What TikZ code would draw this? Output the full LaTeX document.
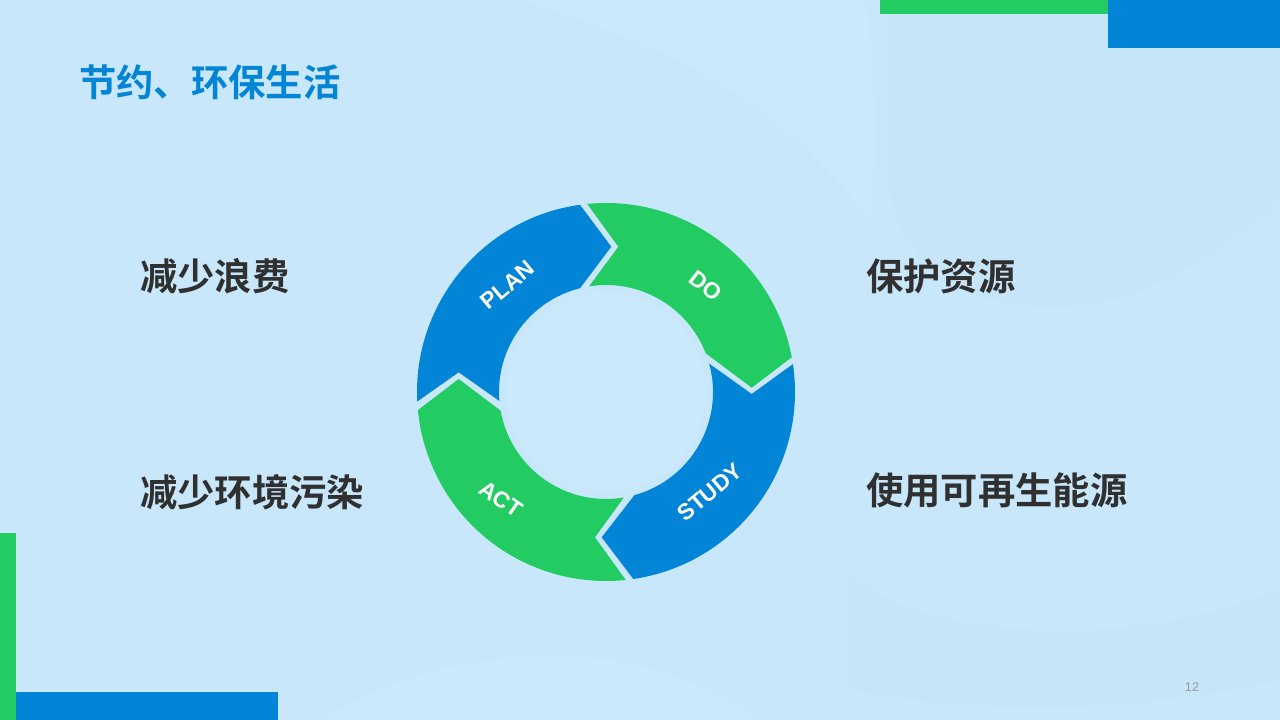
\documentclass[tikz,border=0pt]{standalone}
\usetikzlibrary{calc}
\usepackage{fontspec}
\setmainfont{Liberation Sans}
\newfontfamily\cjkb[BoldFont={Noto Sans CJK SC Bold}]{Noto Sans CJK SC}
\definecolor{bgc}{HTML}{C8E7FA}
\definecolor{bgdark}{HTML}{C6E5F8}
\definecolor{bglight}{HTML}{CAE9FB}
\definecolor{bluec}{HTML}{0285D6}
\definecolor{greenc}{HTML}{22CC62}
\definecolor{inkc}{HTML}{303030}
\tikzset{
  x=0.75pt,y=0.75pt,
  headline/.style={font=\cjkb\bfseries\fontsize{28}{30}\selectfont,text=bluec,inner sep=0pt,anchor=west},
  point/.style={font=\cjkb\bfseries\fontsize{28}{30}\selectfont,text=inkc,inner sep=0pt,anchor=west},
  ringlabel/.style={font=\bfseries\fontsize{17}{18}\selectfont,text=white,inner sep=0pt},
  pagenum/.style={font=\fontsize{9.5}{11}\selectfont,text=black!40,inner sep=0pt}
}
\begin{document}
\begin{tikzpicture}
\useasboundingbox (0,0) rectangle (1280,720);
\fill[bgc] (0,0) rectangle (1280,720);
% faint background texture
\fill[bgdark] (885,706) .. controls (900,600) and (850,500) .. (960,430) .. controls (1100,380) and (1200,450) .. (1280,520) -- (1280,672) -- (1108,672) -- (1108,706) -- cycle;
\fill[bglight] (520,720) .. controls (640,680) and (760,640) .. (870,500) .. controls (880,600) and (870,680) .. (868,720) -- cycle;
\fill[bgdark] (850,150) .. controls (900,90) and (1100,60) .. (1280,130) -- (1280,40) .. controls (1100,0) and (960,10) .. (850,30) -- cycle;
\fill[bglight] (320,0) .. controls (430,70) and (620,100) .. (760,0) -- cycle;
\fill[bglight] (606,328) circle[radius=100];
% corner bars
\fill[greenc] (880,720) rectangle (1108,706);
\fill[bluec] (1108,720) rectangle (1280,672);
\fill[greenc] (0,187) rectangle (16,0);
\fill[bluec] (16,28) rectangle (278,0);
% ring
\coordinate (c) at (606,328);
\def\Ro{189}\def\Ri{107}
% PLAN
\fill[bluec] ($(c)+(97.9:\Ro)$) arc[start angle=97.9,end angle=182.9,radius=\Ro]
  -- (458.7,347.7) -- ($(c)+(184.8:\Ri)$) arc[start angle=184.8,end angle=104,radius=\Ri]
  -- (611.3,473.3) -- cycle;
% DO
\fill[greenc] ($(c)+(95.7:\Ro)$) arc[start angle=95.7,end angle=10.6,radius=\Ro]
  -- (751.7,332.3) -- ($(c)+(21.2:\Ri)$) arc[start angle=21.2,end angle=99.1,radius=\Ri]
  -- (618.3,473.3) -- cycle;
% STUDY
\fill[bluec] ($(c)+(8.5:\Ro)$) arc[start angle=8.5,end angle=-81.7,radius=\Ro]
  -- (601.7,182.7) -- ($(c)+(-74.6:\Ri)$) arc[start angle=-74.6,end angle=15.4,radius=\Ri]
  -- (751.7,326) -- cycle;
% ACT
\fill[greenc] ($(c)+(-84:\Ro)$) arc[start angle=-84,end angle=-174.5,radius=\Ro]
  -- (458.7,341) -- ($(c)+(-169.9:\Ri)$) arc[start angle=-169.9,end angle=-80.4,radius=\Ri]
  -- (595,182.7) -- cycle;
\node[ringlabel,rotate=40] (plan) at (507.5,435) {PLAN};
\node[ringlabel,rotate=-38] (do) at (705.5,434) {DO};
\node[ringlabel,rotate=40] (study) at (710,228) {STUDY};
\node[ringlabel,rotate=-35] (act) at (501,221) {ACT};
% texts
\node[headline] (title) at (79,638) {节约、环保生活};
\node[point] (p1) at (140,444) {减少浪费};
\node[point] (p2) at (866,444) {保护资源};
\node[point] (p3) at (140,228) {减少环境污染};
\node[point] (p4) at (866,230) {使用可再生能源};
\node[pagenum] (num) at (1192,33) {12};
\end{tikzpicture}
\end{document}
